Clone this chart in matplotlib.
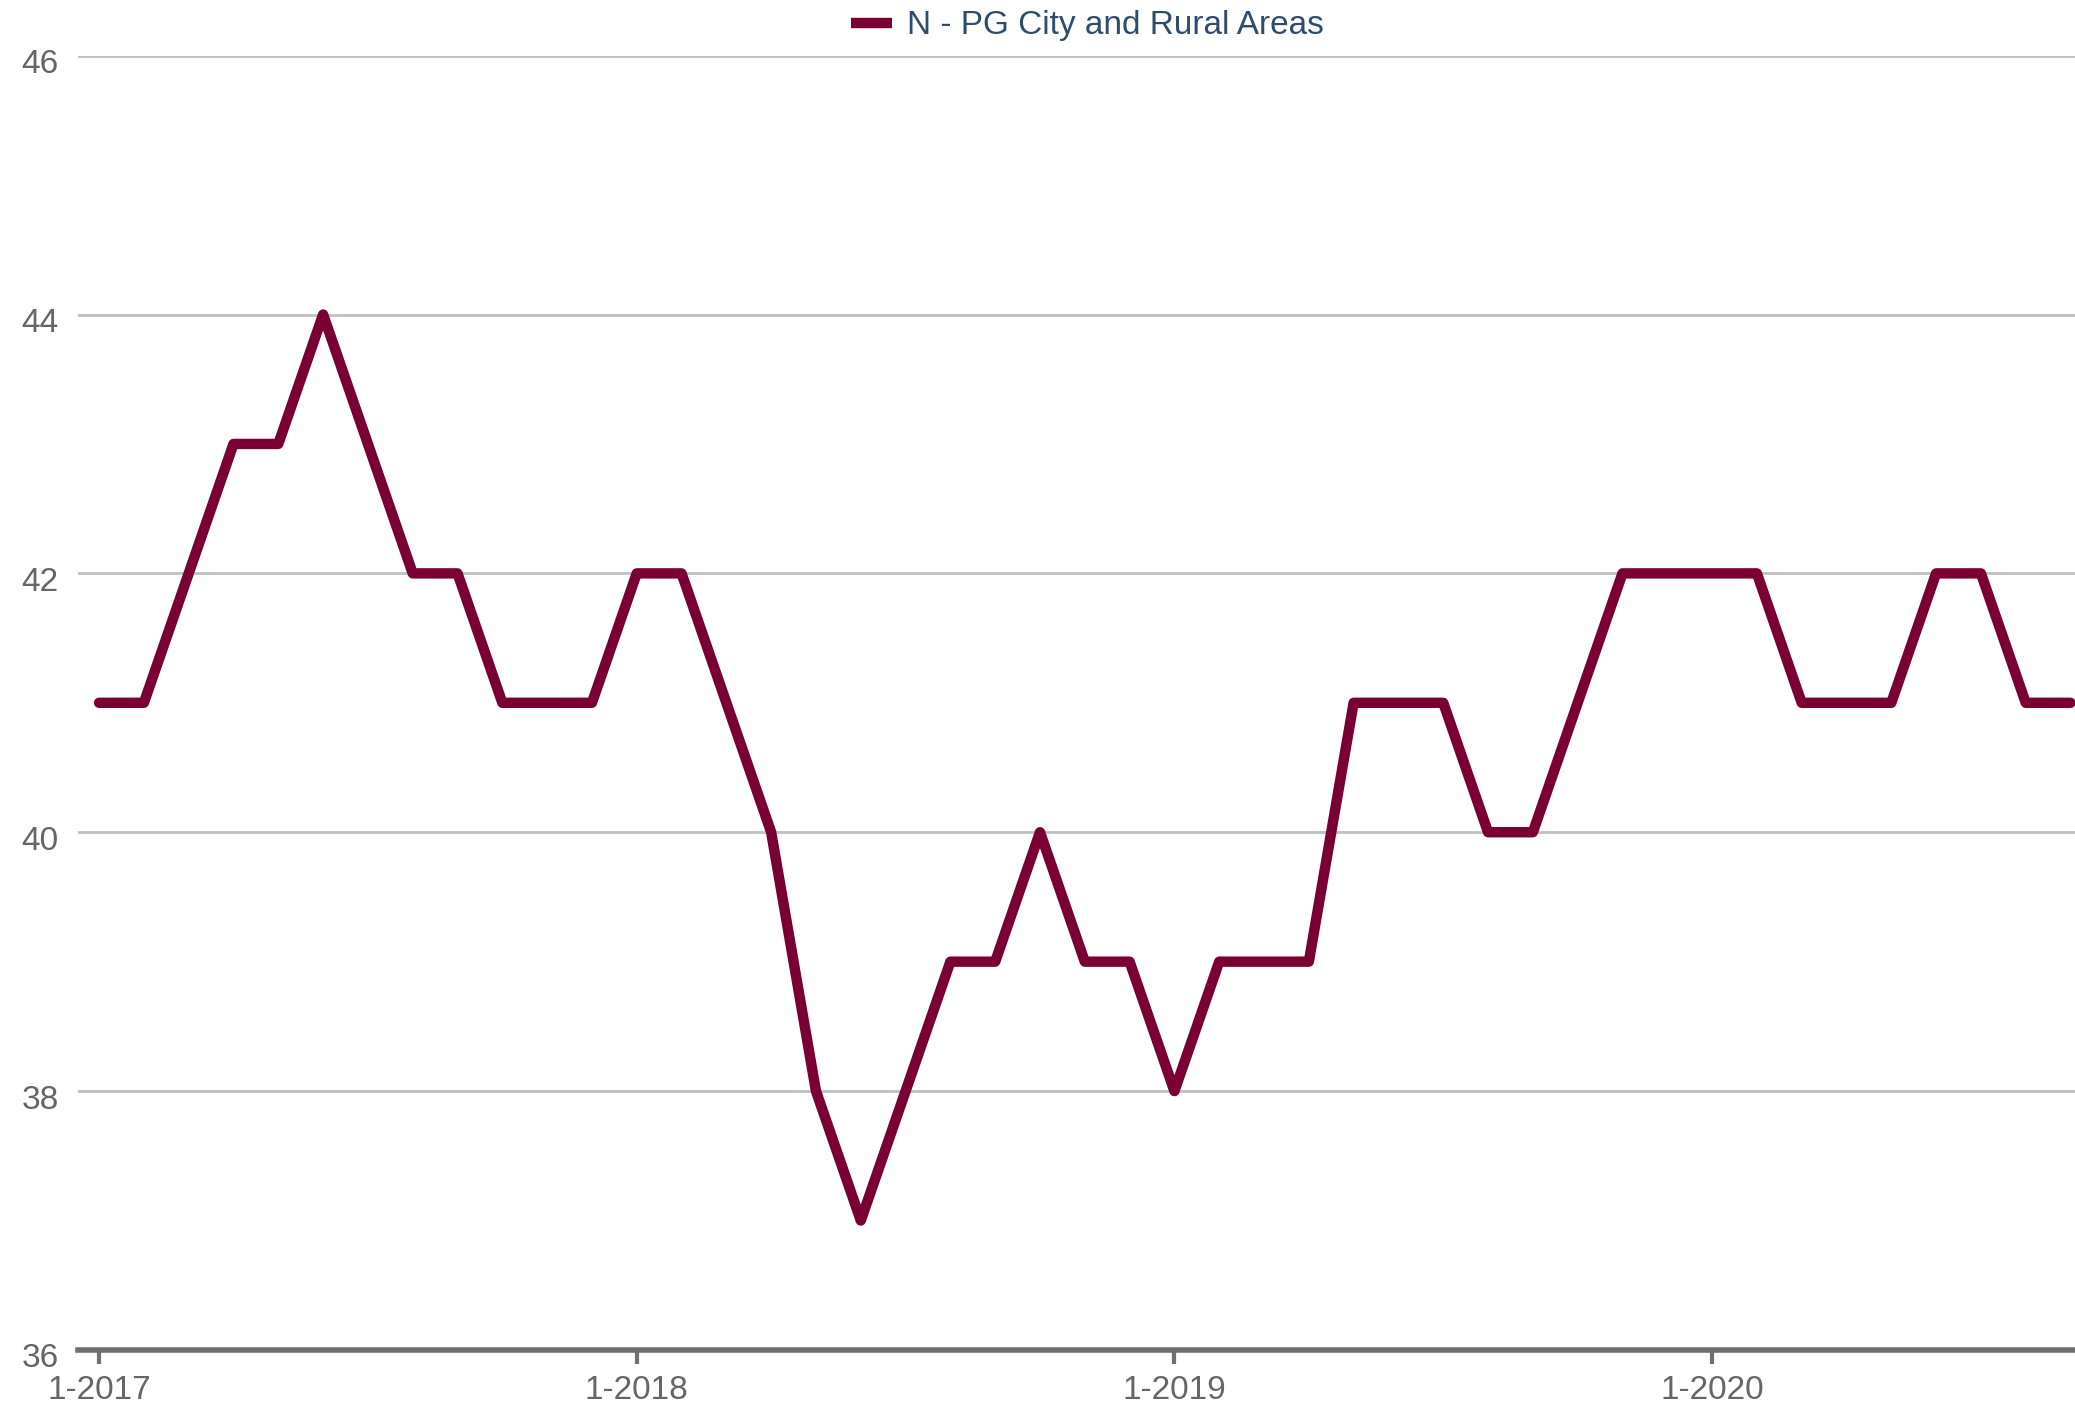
import matplotlib
matplotlib.use("Agg")
import matplotlib.pyplot as plt
from matplotlib.lines import Line2D
import matplotlib.transforms as mtransforms

# Data (monthly, Jan 2017 - Sep 2020)
values = [41, 41, 42, 43, 43, 44, 43, 42, 42, 41, 41, 41,
          42, 42, 41, 40, 38, 37, 38, 39, 39, 40, 39, 39,
          38, 39, 39, 39, 41, 41, 41, 40, 40, 41, 42, 42,
          42, 42, 41, 41, 41, 42, 42, 41, 41]
series_name = "N - PG City and Rural Areas"
xtick_pos = [0, 12, 24, 36]
xtick_labels = ["1-2017", "1-2018", "1-2019", "1-2020"]
yticks = [36, 38, 40, 42, 44, 46]

plt.rcParams['font.family'] = ['Liberation Sans', 'DejaVu Sans']

LINE_COLOR = "#7a0033"
TICK_COLOR = "#666666"
GRID_COLOR = "#c0c0c0"
AXIS_COLOR = "#707070"

fig = plt.figure(figsize=(20.75, 14.09), dpi=100)
ax = fig.add_axes([0.0376, 0.0419, 0.9624, 0.9186])

x = list(range(len(values)))
ax.plot(x, values, color=LINE_COLOR, lw=7.5, solid_joinstyle='round',
        solid_capstyle='round', clip_on=False, zorder=3)

ax.set_xlim(-0.47, 44.1)
ax.set_ylim(36, 46)
ax.set_yticks(yticks)
ax.set_yticklabels([str(v) for v in yticks])
ax.set_xticks(xtick_pos)
ax.set_xticklabels(xtick_labels)

for y in yticks[1:]:
    ax.axhline(y, color=GRID_COLOR, lw=2, zorder=1)

for s in ['top', 'right', 'left']:
    ax.spines[s].set_visible(False)
ax.spines['bottom'].set_color(AXIS_COLOR)
ax.spines['bottom'].set_linewidth(4)
ax.spines['bottom'].set_zorder(2)

ax.tick_params(axis='y', length=0, pad=14, labelsize=24, labelcolor=TICK_COLOR)
ax.tick_params(axis='x', length=10, width=3, color=AXIS_COLOR, pad=8,
               labelsize=24, labelcolor=TICK_COLOR)
for lab in ax.get_yticklabels():
    lab.set_verticalalignment('center')
    lab.set_transform(lab.get_transform() + mtransforms.ScaledTranslation(0, -0.09, fig.dpi_scale_trans))

handle = Line2D([], [], color=LINE_COLOR, lw=7.5, solid_capstyle='butt')
leg = fig.legend([handle], [series_name], loc='upper center',
                 bbox_to_anchor=(0.524, 1.014), frameon=False, fontsize=24,
                 handlelength=1.25, handletextpad=0.45)
for t in leg.get_texts():
    t.set_color("#2e4d6e")

fig.savefig("out.png", dpi=100)
